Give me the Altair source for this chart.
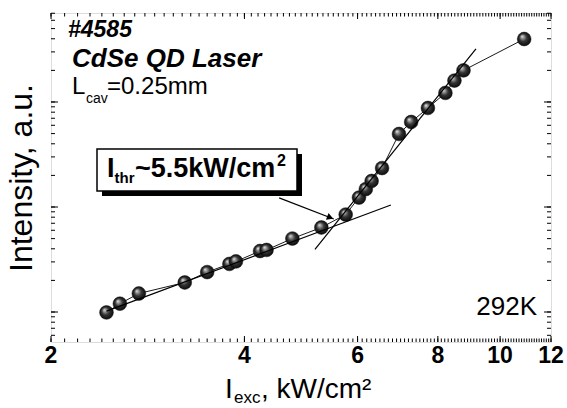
import altair as alt
import pandas as pd

# Excitation intensity (kW/cm²) and laser emission intensity (a.u.)
excitation = [2.44, 2.56, 2.74, 3.23, 3.50, 3.79, 3.88, 4.23, 4.33, 4.75, 5.27, 5.75,
              6.03, 6.18, 6.31, 6.55, 6.96, 7.27, 7.72, 8.22, 8.49, 8.77, 10.9]
intensity = [0.99, 1.20, 1.50, 1.91, 2.40, 2.87, 3.03, 3.81, 3.90, 5.01, 6.38, 8.48,
             12.3, 14.8, 17.7, 23.5, 49.6, 64.5, 87.7, 122, 160, 200, 398]

# Power-law fits below and above threshold
fit_below_x = [2.44, 6.76]
fit_below_y = [1.02, 10.45]
fit_above_x = [5.15, 9.17]
fit_above_y = [3.94, 320]

# Arrow pointing at the threshold crossing
arrow_x = [4.53, 5.51]
arrow_y = [12.2, 7.69]
arrow_head_x = [5.44]
arrow_head_y = [7.94]

x_ticks = [2, 4, 6, 8, 10, 12]
x_tick_labels = ["2", "4", "6", "8", "10", "12"]
x_minor = [round(2 + 0.1 * i, 2) for i in range(101)]
y_domain = [0.518, 704]
y_major = [1, 10, 100]
y_minor = [m * 10 ** e for e in range(-1, 3) for m in range(1, 10)
           if y_domain[0] <= m * 10 ** e <= y_domain[1]]

W, H = 500, 329
FONT = "Liberation Sans"

xs = alt.Scale(type="log", domain=[2, 12], nice=False)
ys = alt.Scale(type="log", domain=y_domain, nice=False)


def X(field):
    return alt.X(field, type="quantitative", scale=xs, axis=None)


def Y(field):
    return alt.Y(field, type="quantitative", scale=ys, axis=None)


def note(text, x, y, size, weight="normal", style="normal", align="left",
         angle=None, baseline="alphabetic"):
    opts = dict(font=FONT, fontSize=size, fontWeight=weight, fontStyle=style,
                align=align, baseline=baseline, color="black")
    if angle is not None:
        opts["angle"] = angle
    return alt.Chart(pd.DataFrame({"t": [text]})).mark_text(**opts).encode(
        x=alt.value(x), y=alt.value(y), text="t:N")


data = pd.DataFrame({"exc": excitation, "inten": intensity})

sphere = alt.RadialGradient(
    gradient="radial", x1=0.34, y1=0.3, r1=0, x2=0.5, y2=0.5, r2=0.5,
    stops=[alt.GradientStop(offset=0, color="#ececec"),
           alt.GradientStop(offset=0.22, color="#9a9a9a"),
           alt.GradientStop(offset=0.55, color="#333333"),
           alt.GradientStop(offset=1, color="#0c0c0c")])

connect = alt.Chart(data).mark_line(color="black", strokeWidth=0.9).encode(
    x=X("exc"), y=Y("inten"))
points = alt.Chart(data).mark_circle(size=190, fill=sphere, opacity=1,
                                     stroke="#111111", strokeWidth=0.5).encode(
    x=X("exc"), y=Y("inten"))

fit_low = alt.Chart(pd.DataFrame({"x": fit_below_x, "y": fit_below_y})).mark_line(
    color="black", strokeWidth=1.2).encode(x=X("x"), y=Y("y"))
fit_high = alt.Chart(pd.DataFrame({"x": fit_above_x, "y": fit_above_y})).mark_line(
    color="black", strokeWidth=1.2).encode(x=X("x"), y=Y("y"))

arrow = alt.Chart(pd.DataFrame({"x": [arrow_x[0]], "x2": [arrow_x[1]],
                                "y": [arrow_y[0]], "y2": [arrow_y[1]]})).mark_rule(
    color="black", strokeWidth=1.2).encode(x=X("x"), x2="x2", y=Y("y"), y2="y2")
arrow_head = alt.Chart(pd.DataFrame({"x": arrow_head_x, "y": arrow_head_y})).mark_point(
    shape="triangle-right", filled=True, color="black", opacity=1, size=55, angle=21).encode(
    x=X("x"), y=Y("y"))

# Inward ticks on all four sides
xmin_df = pd.DataFrame({"v": x_minor})
xmaj_df = pd.DataFrame({"v": x_ticks})
ymin_df = pd.DataFrame({"v": y_minor})
ymaj_df = pd.DataFrame({"v": y_major})
tick_layers = []
for df, ln in ((xmin_df, 3.5), (xmaj_df, 6)):
    tick_layers.append(alt.Chart(df).mark_rule(color="black", strokeWidth=1).encode(
        x=X("v"), y=alt.value(H), y2=alt.value(H - ln)))
    tick_layers.append(alt.Chart(df).mark_rule(color="black", strokeWidth=1).encode(
        x=X("v"), y=alt.value(0), y2=alt.value(ln)))
for df, ln in ((ymin_df, 4), (ymaj_df, 7)):
    tick_layers.append(alt.Chart(df).mark_rule(color="black", strokeWidth=1).encode(
        y=Y("v"), x=alt.value(0), x2=alt.value(ln)))
    tick_layers.append(alt.Chart(df).mark_rule(color="black", strokeWidth=1).encode(
        y=Y("v"), x=alt.value(W), x2=alt.value(W - ln)))

x_labels = alt.Chart(pd.DataFrame({"v": x_ticks, "t": x_tick_labels})).mark_text(
    font=FONT, fontSize=23, fontWeight="bold", align="center", baseline="alphabetic",
    color="black").encode(x=X("v"), y=alt.value(H + 21), text="t:N")

# Threshold label box with drop shadow
shadow = alt.Chart(pd.DataFrame({"a": [0]})).mark_rect(color="black").encode(
    x=alt.value(51), x2=alt.value(251), y=alt.value(141), y2=alt.value(183))
box = alt.Chart(pd.DataFrame({"a": [0]})).mark_rect(
    fill="white", stroke="black", strokeWidth=1.5).encode(
    x=alt.value(46), x2=alt.value(246), y=alt.value(136), y2=alt.value(178))

texts = [
    note("#4585", 17, 24, 23, weight="bold", style="italic"),
    note("CdSe QD Laser", 21, 54, 26, weight="bold", style="italic"),
    note("L", 21, 81, 24),
    note("cav", 35, 90, 14),
    note("=0.25mm", 56, 81, 24),
    note("292K", 486, 302, 26, align="right"),
    note("I", 56, 164, 27, weight="bold"),
    note("thr", 63.5, 170, 15, weight="bold"),
    note("~5.5kW/cm", 84, 164, 27, weight="bold"),
    note("2", 226, 153, 16, weight="bold"),
    note("I", 174, 385, 28),
    note("exc", 183, 390, 17),
    note(", kW/cm²", 210, 385, 28),
    note("Intensity, a.u.", -29, 165, 32, align="center", angle=270, baseline="middle"),
]

chart = alt.layer(
    connect, points, fit_low, fit_high, arrow, arrow_head,
    *tick_layers, x_labels, shadow, box, *texts
).properties(
    width=W, height=H,
    autosize=alt.AutoSizeParams(type="none"),
    padding={"left": 51, "top": 13, "right": 16, "bottom": 66},
).configure_view(stroke="black", strokeWidth=1.5).configure(background="white")

chart.save("out.html", embed_options={"renderer": "svg", "actions": False})
